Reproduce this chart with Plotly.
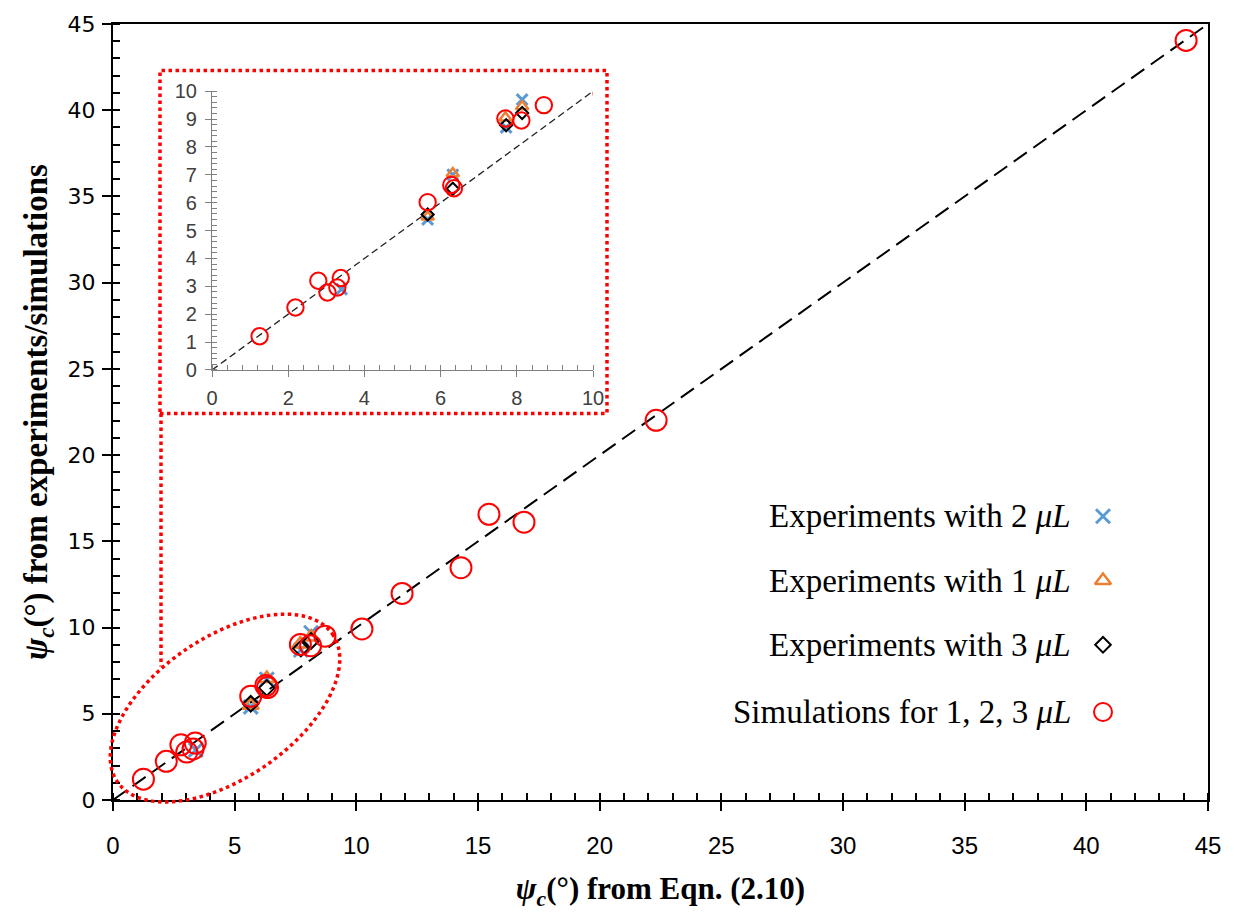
import numpy as np
import plotly.graph_objects as go

# ---- data: psi_c from Eqn. (2.10) vs experiments / simulations ----
exp2_x = [3.40, 5.66, 6.32, 7.72, 8.14]
exp2_y = [2.90, 5.40, 7.00, 8.70, 9.70]

exp1_x = [5.66, 6.32, 7.70, 8.14]
exp1_y = [5.50, 7.05, 9.05, 9.45]

exp3_x = [5.66, 6.32, 7.72, 8.14]
exp3_y = [5.58, 6.50, 8.78, 9.22]

sim_x = [1.25, 2.19, 2.79, 3.03, 3.29, 3.38, 5.66, 6.28, 6.35, 7.70, 8.12, 8.71,
         10.23, 11.88, 14.30, 15.45, 16.89, 22.32, 44.10]
sim_y = [1.21, 2.24, 3.20, 2.78, 2.96, 3.30, 6.02, 6.64, 6.52, 9.02, 8.95, 9.50,
         9.92, 11.98, 13.47, 16.57, 16.11, 22.02, 44.05]

legend_labels = ["Experiments with 2 <i>μL</i>",
                 "Experiments with 1 <i>μL</i>",
                 "Experiments with 3 <i>μL</i>",
                 "Simulations for 1, 2, 3 <i>μL</i>"]

x_title = "<b><i>ψ<sub>c</sub></i>(°) from Eqn. (2.10)</b>"
y_title = "<b><i>ψ<sub>c</sub></i>(°) from experiments/simulations</b>"

# ---- figure geometry (pixels) ----
W, H = 1234, 921
ML, MR, MT, MB = 113, 26, 15, 121
PW, PH = W - ML - MR, H - MT - MB
AX_MAX = 45


def px2paper(px, py):
    return (px - ML) / PW, (H - MB - py) / PH


BLUE, ORANGE, BLACK, RED = "#5B9BD5", "#ED7D31", "#000000", "#FF0000"

styles = [
    dict(symbol="x-thin-open", color=BLUE, size=14, lw=3),
    dict(symbol="triangle-up-open", color=ORANGE, size=14, lw=2.5),
    dict(symbol="diamond-open", color=BLACK, size=12, lw=2),
    dict(symbol="circle-open", color=RED, size=21, lw=2),
]
series = [(exp2_x, exp2_y), (exp1_x, exp1_y), (exp3_x, exp3_y), (sim_x, sim_y)]

fig = go.Figure()

# 1:1 reference lines
fig.add_trace(go.Scatter(x=[0, 45], y=[0, 45], mode="lines",
                         line=dict(color="black", width=2, dash="16px,8px"),
                         showlegend=False, hoverinfo="skip"))
fig.add_trace(go.Scatter(x=[0, 10], y=[0, 10], mode="lines", xaxis="x2", yaxis="y2",
                         line=dict(color="#222222", width=1.3, dash="7px,4px"),
                         showlegend=False, hoverinfo="skip"))

# main panel and zoomed inset
for (xs, ys), st, name in zip(series, styles, legend_labels):
    mk = dict(symbol=st["symbol"], size=st["size"], color=st["color"],
              line=dict(color=st["color"], width=st["lw"]))
    fig.add_trace(go.Scatter(x=xs, y=ys, mode="markers", name=name, showlegend=False,
                             marker=mk))
    mk_in = dict(mk, size=st["size"] * 0.78)
    fig.add_trace(go.Scatter(x=xs, y=ys, mode="markers", xaxis="x2", yaxis="y2",
                             showlegend=False, marker=mk_in))

# legend: text on the left, symbol on the right
leg_rows_px = [513, 578, 643, 711]
text_right_px, sym_px = 1073, 1103
for (st, label, ry) in zip(styles, legend_labels, leg_rows_px):
    sx, sy = px2paper(sym_px, ry)
    fig.add_trace(go.Scatter(x=[sx * AX_MAX], y=[sy * AX_MAX], mode="markers",
                             showlegend=False, hoverinfo="skip",
                             marker=dict(symbol=st["symbol"], size=min(st["size"], 18),
                                         color=st["color"],
                                         line=dict(color=st["color"], width=st["lw"]))))
    tx, ty = px2paper(text_right_px, ry)
    fig.add_annotation(x=tx, y=ty, xref="paper", yref="paper", xanchor="right",
                       yanchor="middle", showarrow=False, text=label,
                       font=dict(family="Liberation Serif", size=33, color="black"))

# inset frame, connector and highlight ellipse
x0, y1 = px2paper(160, 62)
x1, y0 = px2paper(607, 409)
fig.add_shape(type="rect", xref="paper", yref="paper", x0=x0, x1=x1, y0=y0, y1=y1,
              line=dict(color=RED, width=3.5, dash="dot"), layer="above")
lx, ly0 = px2paper(161, 409)
_, ly1 = px2paper(161, 665)
fig.add_shape(type="line", xref="paper", yref="paper", x0=lx, x1=lx, y0=ly0, y1=ly1,
              line=dict(color=RED, width=3.5, dash="dot"), layer="above")

cx, cy, a, b, th = 225, 707, 131, 71, np.deg2rad(35)
t = np.linspace(0, 2 * np.pi, 121)
ex = cx + a * np.cos(t) * np.cos(th) + b * np.sin(t) * np.sin(th)
ey = cy - a * np.cos(t) * np.sin(th) + b * np.sin(t) * np.cos(th)
pts = [px2paper(float(u), float(v)) for u, v in zip(ex, ey)]
path = "M " + " L ".join(f"{u:.5f},{v:.5f}" for u, v in pts) + " Z"
fig.add_shape(type="path", xref="paper", yref="paper", path=path,
              line=dict(color=RED, width=3.5, dash="dot"), layer="above")

tick_font_x = dict(family="Liberation Sans Narrow, Liberation Sans", size=24, color="black")
tick_font_y = dict(family="DejaVu Sans", size=22, color="black")
title_font_x = dict(family="Liberation Serif", size=31, color="black")
title_font_y = dict(family="Liberation Serif", size=33, color="black")
inset_font = dict(family="Liberation Sans", size=20, color="#404040")

ix0, iy0 = px2paper(212, 365)
ix1, iy1 = px2paper(593, 83)

fig.update_layout(
    width=W, height=H,
    margin=dict(l=ML, r=MR, t=MT, b=MB),
    paper_bgcolor="white", plot_bgcolor="white",
    showlegend=False,
    xaxis=dict(range=[0, AX_MAX], dtick=5, tick0=0, showgrid=False, zeroline=False,
               showline=True, linecolor="black", linewidth=2, mirror=True,
               ticks="outside", ticklen=9, tickwidth=2, tickcolor="black",
               minor=dict(dtick=1, ticks="inside", ticklen=7, tickwidth=1.5,
                          tickcolor="black", showgrid=False),
               tickfont=tick_font_x, ticklabelstandoff=14,
               title=dict(text=x_title, font=title_font_x, standoff=20)),
    yaxis=dict(range=[0, AX_MAX], dtick=5, tick0=0, showgrid=False, zeroline=False,
               showline=True, linecolor="black", linewidth=2, mirror=True,
               ticks="outside", ticklen=9, tickwidth=2, tickcolor="black",
               minor=dict(dtick=1, ticks="inside", ticklen=7, tickwidth=1.5,
                          tickcolor="black", showgrid=False),
               tickfont=tick_font_y, ticklabelstandoff=2,
               title=dict(text=y_title, font=title_font_y, standoff=10)),
    xaxis2=dict(domain=[ix0, ix1], anchor="y2", range=[0, 10], dtick=2, tick0=0,
                showgrid=False, zeroline=False, showline=True, linecolor="#808080",
                linewidth=1.2, ticks="outside", ticklen=6, tickwidth=1.2,
                tickcolor="#808080",
                minor=dict(dtick=0.4, ticks="inside", ticklen=5, tickwidth=1,
                           tickcolor="#808080", showgrid=False),
                tickfont=inset_font, ticklabelstandoff=4),
    yaxis2=dict(domain=[iy0, iy1], anchor="x2", range=[0, 10], dtick=1, tick0=0,
                showgrid=False, zeroline=False, showline=True, linecolor="#808080",
                linewidth=1.2, ticks="outside", ticklen=6, tickwidth=1.2,
                tickcolor="#808080",
                minor=dict(dtick=0.2, ticks="inside", ticklen=5, tickwidth=1,
                           tickcolor="#808080", showgrid=False),
                tickfont=inset_font, ticklabelstandoff=4),
)

fig.write_html("out.html")
